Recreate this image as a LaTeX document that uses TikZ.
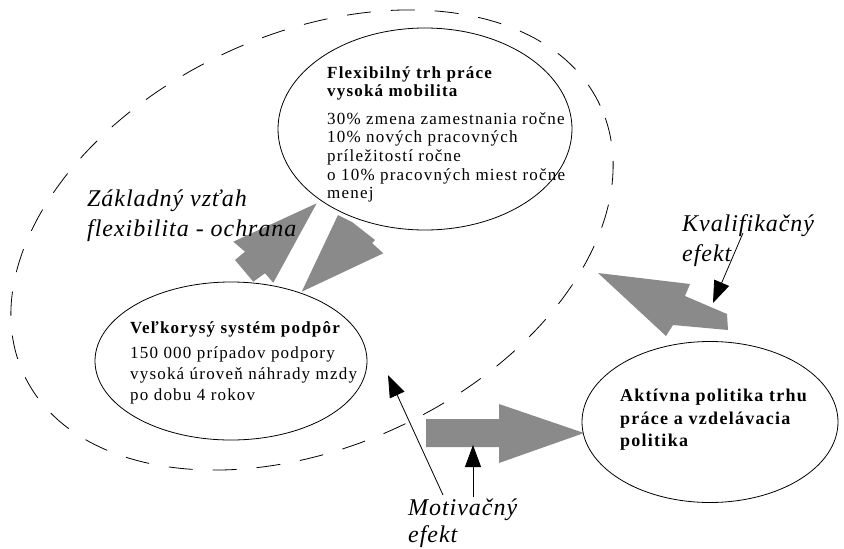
\documentclass[tikz,border=0pt]{standalone}
\usepackage{fontspec}
\setmainfont{Liberation Serif}
\newfontfamily\bubblefont[LetterSpace=7]{Liberation Serif}
\newfontfamily\effectfont[LetterSpace=4]{Liberation Serif}
\usetikzlibrary{arrows.meta,shapes.geometric}
\definecolor{arrowgray}{RGB}{138,138,138}

\begin{document}
\begin{tikzpicture}[
    x=1pt, y=-1pt,
    bubble/.style={ellipse, draw=black, fill=white, line width=0.8pt, inner sep=0pt},
    bubbletext/.style={anchor=north west, inner sep=0pt, align=left},
    effect/.style={anchor=north west, inner sep=0pt, align=left, font=\effectfont\itshape\fontsize{24}{30}\selectfont},
    bigarrow/.style={fill=arrowgray},
    pointer/.style={-{Triangle[length=22pt,width=16pt]}, line width=0.8pt},
    group/.style={draw=black, line width=0.8pt, dash pattern=on 24pt off 20pt}
]
    \useasboundingbox (0,0) rectangle (844,549);

    % dashed frame round the basic relation
    \draw[group, rotate around={25:(312,240)}] (312,240) ellipse [x radius=318pt, y radius=206pt];

    % big grey arrows
    \fill[bigarrow] (316.7,203.3) -- (233.3,241.7) -- (245,251.7) -- (235,260) -- (253.3,281.7) -- (265,273.3) -- (273.3,282.7) -- cycle;
    \fill[bigarrow] (338,215) -- (352,222) -- (375,240) -- (372,243) -- (383.3,253.3) -- (301.7,291.7) -- cycle;
    \fill[bigarrow] (426,419) -- (499,419) -- (499,404) -- (584,433) -- (499,463) -- (499,447) -- (426,447) -- cycle;
    \fill[bigarrow] (598,273) -- (690,284) -- (685,296) -- (727,314) -- (728,330) -- (673,325) -- (666,336) -- cycle;

    \node[bubble, minimum width=294pt, minimum height=202pt] (flex) at (425,129) {};
    \node[bubble, minimum width=272pt, minimum height=158pt] (velk) at (231,361) {};
    \node[bubble, minimum width=256pt, minimum height=161pt] (akt) at (710,422) {};

    \node[bubbletext, font=\bubblefont\fontsize{17}{18.6}\selectfont] (flextext) at (327,66)
        {\textbf{Flexibilný trh práce}\\\textbf{vysoká mobilita}\\[9pt]30\% zmena zamestnania ročne\\10\% nových pracovných\\príležitostí ročne\\o 10\% pracovných miest ročne\\menej};
    \node[bubbletext, font=\bubblefont\fontsize{17}{21}\selectfont] (velktext) at (130,321)
        {\textbf{Veľkorysý systém podpôr}\\[4pt]150 000 prípadov podpory\\vysoká úroveň náhrady mzdy\\po dobu 4 rokov};
    \node[bubbletext, font=\bubblefont\bfseries\fontsize{18}{22.5}\selectfont] (akttext) at (620,389)
        {Aktívna politika trhu\\práce a vzdelávacia\\politika};

    \node[effect] (basic) at (87,190) {Základný vzťah\\flexibilita - ochrana};
    \node[effect] (kvalif) at (682,214) {Kvalifikačný\\efekt};
    \node[effect, font=\effectfont\itshape\fontsize{24}{27}\selectfont] (motiv) at (408,499) {Motivačný\\efekt};

    \coordinate (ktip) at (713,303);
    \coordinate (mtip1) at (388,375);
    \coordinate (mtip2) at (473,445);
    \draw[pointer] ([xshift=61pt, yshift=-19pt]kvalif.north west) -- (ktip);
    \draw[pointer] ([xshift=35pt, yshift=4pt]motiv.north west) -- (mtip1);
    \draw[pointer] ([xshift=65pt, yshift=2pt]motiv.north west) -- (mtip2);
\end{tikzpicture}
\end{document}
